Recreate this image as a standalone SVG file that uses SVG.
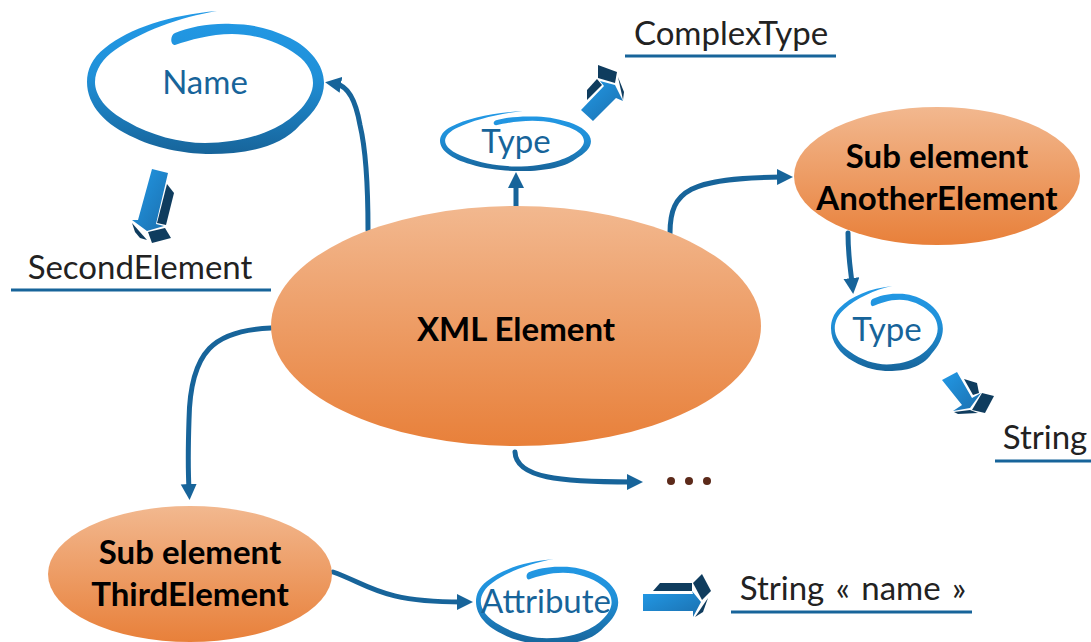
<svg xmlns="http://www.w3.org/2000/svg" xmlns:xlink="http://www.w3.org/1999/xlink" width="1091" height="642" viewBox="0 0 1091 642">
<style>
text{font-family:Lato,"Liberation Sans",sans-serif;text-anchor:middle;font-size:33px}
.lbl{fill:#17649a}
.out{fill:#222}
.bold{fill:#000;font-weight:700}
.conn path{fill:none;stroke:#17649a;stroke-width:5;stroke-linecap:round;marker-end:url(#head)}
.rule{stroke:#17649a;stroke-width:3;fill:none}
.d{fill:#0f3c5e}
.b{fill:url(#blockBlue)}
</style>
<defs>
<linearGradient id="orange" x1="0" y1="0" x2="0" y2="1"><stop offset="0" stop-color="#f2b88f"/><stop offset="1" stop-color="#e8803a"/></linearGradient>
<linearGradient id="ringGrad" x1="0" y1="0" x2="0" y2="1"><stop offset="0" stop-color="#2299e6"/><stop offset=".45" stop-color="#2090d8"/><stop offset="1" stop-color="#17649a"/></linearGradient>
<linearGradient id="blockBlue" x1="0" y1="0" x2="1" y2="1"><stop offset="0" stop-color="#2299e6"/><stop offset="1" stop-color="#1b6fae"/></linearGradient>
<marker id="head" markerUnits="userSpaceOnUse" markerWidth="18" markerHeight="18" refX="5" refY="8" orient="auto"><path d="M0,0L16,8L0,16Z" fill="#17649a"/></marker>
<path id="ring" fill="url(#ringGrad)" d="M217,11C170,15 130,28 105,48C92,58 87,70 87,82C87,105 105,125 135,138C160,150 190,154 210,154C245,154 280,148 300,125C315,112 324,98 324,83C324,65 310,48 290,38C270,28 250,24 232,24C210,23 190,27 175,33C170,35 170,45 175,45C190,40 210,34 232,34C255,34 280,42 297,55C308,63 313,73 313,83C313,100 295,118 275,128C255,138 230,143 205,143C180,143 150,135 128,122C105,110 95,95 95,82C95,70 103,58 115,50C140,32 180,17 217,11Z"/>
</defs>
<rect width="1091" height="642" fill="#fff"/>
<g class="conn" id="connectors">
<path d="M368,230C368,190 366,150 360,125C356,102 348,86 336,84"/>
<path d="M516,207V183"/>
<path d="M670,233C670,190 690,178 782,177"/>
<path d="M848,233C848,255 850,265 852,283"/>
<path d="M271,328C215,330 190,350 189,420C188,450 188,470 189,489"/>
<path d="M515,452C516,478 560,482 632,482"/>
<path d="M333,572C370,585 380,602 462,602"/>
</g>
<g id="node-main"><ellipse cx="516" cy="326" rx="245" ry="120" fill="url(#orange)"/><text class="bold" x="516" y="341">XML Element</text></g>
<g id="node-sub-another"><ellipse cx="937" cy="176" rx="143" ry="69" fill="url(#orange)"/><text class="bold" x="937" y="168">Sub element</text><text class="bold" x="937" y="210">AnotherElement</text></g>
<g id="node-sub-third"><ellipse cx="190" cy="574" rx="142" ry="68" fill="url(#orange)"/><text class="bold" x="190" y="564">Sub element</text><text class="bold" x="190" y="606">ThirdElement</text></g>
<g id="node-name"><use xlink:href="#ring"/><text class="lbl" x="205" y="94">Name</text></g>
<g id="node-type"><use xlink:href="#ring" transform="translate(440,111) scale(.637,.42) translate(-87,-11)"/><text class="lbl" x="516" y="153">Type</text></g>
<g id="node-type2"><use xlink:href="#ring" transform="translate(831,286) scale(.472,.594) translate(-87,-11)"/><text class="lbl" x="887" y="341">Type</text></g>
<g id="node-attribute"><use xlink:href="#ring" transform="translate(476,559) scale(.6,.6) translate(-87,-11)"/><text class="lbl" x="546" y="613">Attribute</text></g>
<g id="label-complextype"><text class="out" x="731" y="45">ComplexType</text><path class="rule" d="M625,56H836"/></g>
<g id="label-secondelement"><text class="out" x="140" y="279">SecondElement</text><path class="rule" d="M11,290H271"/></g>
<g id="label-string"><text class="out" x="1045" y="449">String</text><path class="rule" d="M995,461H1091"/></g>
<g id="label-string-name"><text class="out" x="853" y="600" word-spacing="3">String « name »</text><path class="rule" d="M731,612H972"/></g>
<g id="label-ellipsis"><circle cx="671" cy="481" r="4" fill="#5c2a1a"/><circle cx="689" cy="481" r="4" fill="#5c2a1a"/><circle cx="707" cy="481" r="4" fill="#5c2a1a"/></g>
<g id="arrow-name"><polygon class="b" points="152,169 168,173 156,224 164,226 147,231 132,220 138,220"/><polygon class="d" points="167,184 174,193 166,225 157,223"/><polygon class="d" points="148,232 165,228 171,238 152,243"/><polygon class="d" points="132,223 147,240 140,238 135,232"/></g>
<g id="arrow-type"><polygon class="b" points="581,110 604,86 600,81 615,85 623,101 616,98 593,121"/><polygon class="d" points="587,90 597,79 602,85 587,100"/><polygon class="d" points="598,65 617,72 615,83 598,78"/><polygon class="d" points="618,77 624,92 623,100"/></g>
<g id="arrow-type2"><polygon class="b" points="942,380 957,372 972,398 981,393 970,408 953,411 962,405"/><polygon class="d" points="964,379 977,383 979,393 973,395"/><polygon class="d" points="982,393 994,396 985,413 972,410"/><polygon class="d" points="954,412 970,410 978,413 958,414"/></g>
<g id="arrow-attribute"><polygon class="b" points="643,594 693,594 692,591 701,602 693,617 693,611 643,611"/><polygon class="d" points="653,591 660,583 692,583 692,591"/><polygon class="d" points="693,583 702,574 711,591 702,600"/><polygon class="d" points="695,617 708,598 703,612"/></g>
</svg>
